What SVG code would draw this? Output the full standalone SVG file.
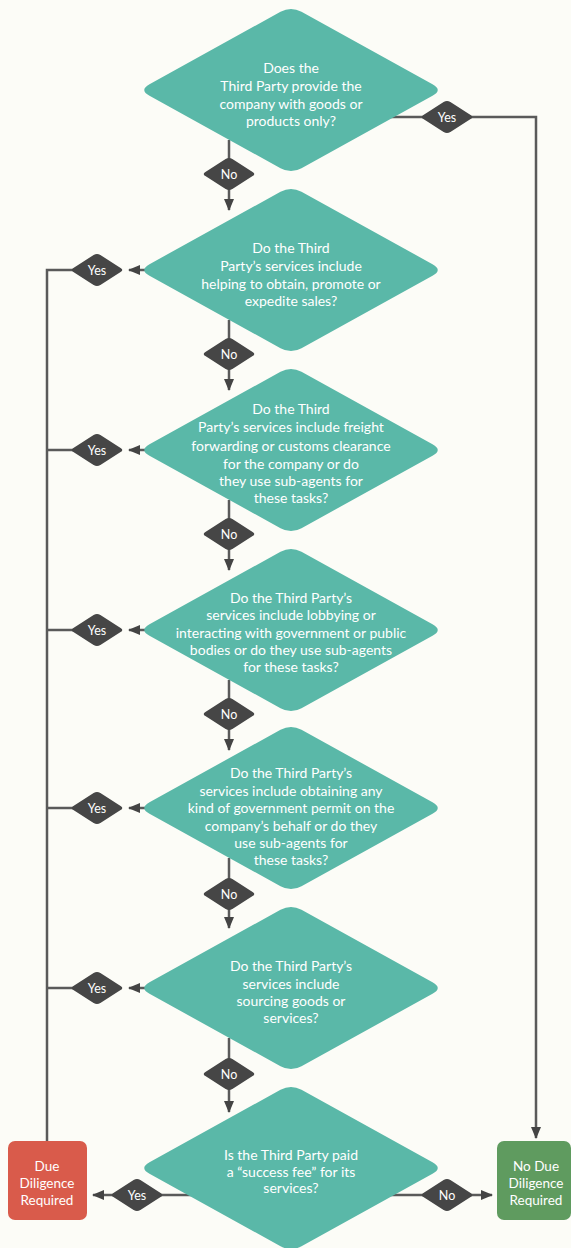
<svg xmlns="http://www.w3.org/2000/svg" xmlns:xlink="http://www.w3.org/1999/xlink" width="571" height="1248" viewBox="0 0 571 1248">
  <style>
    .q { fill: #5ab8a8; }
    .lbl { fill: #464646; }
    .wire { fill: none; stroke: #5a5a5a; stroke-width: 2.5; }
    .qt { font-family: Lato, "Open Sans", sans-serif; font-size: 14px; fill: #ffffff; text-anchor: middle; }
    .lt { font-family: Lato, "Open Sans", sans-serif; font-size: 12.5px; fill: #ffffff; text-anchor: middle; }
    .bt { font-family: Lato, "Open Sans", sans-serif; font-size: 13.5px; fill: #ffffff; text-anchor: middle; }
  </style>
  <defs>
    <!-- decision shape, rounded tips, centred on 0,0 -->
    <path id="dia" d="M -10.5,-78.2 Q 0,-84 10.5,-78.2 L 141.5,-5.8 Q 152,0 141.5,5.8 L 10.5,78.2 Q 0,84 -10.5,78.2 L -141.5,5.8 Q -152,0 -141.5,-5.8 Z"/>
    <!-- small branch label shape -->
    <path id="tag" d="M -3.4,-14.9 Q 0,-17 3.4,-14.9 L 23.6,-2.1 Q 27,0 23.6,2.1 L 3.4,14.9 Q 0,17 -3.4,14.9 L -23.6,2.1 Q -27,0 -23.6,-2.1 Z"/>
    <marker id="arr" viewBox="0 0 12 10" refX="11" refY="5" markerWidth="12" markerHeight="10" markerUnits="userSpaceOnUse" orient="auto">
      <path d="M 0,0 L 12,5 L 0,10 Z" fill="#444444"/>
    </marker>
  </defs>

  <rect width="571" height="1248" fill="#fcfcf7"/>

  <!-- connectors -->
  <g id="connectors">
    <!-- No path down the middle -->
    <line class="wire" x1="229" y1="140" x2="229" y2="210" marker-end="url(#arr)"/>
    <line class="wire" x1="229" y1="320" x2="229" y2="390" marker-end="url(#arr)"/>
    <line class="wire" x1="229" y1="500" x2="229" y2="570" marker-end="url(#arr)"/>
    <line class="wire" x1="229" y1="680" x2="229" y2="750" marker-end="url(#arr)"/>
    <line class="wire" x1="229" y1="858" x2="229" y2="928" marker-end="url(#arr)"/>
    <line class="wire" x1="229" y1="1038" x2="229" y2="1112" marker-end="url(#arr)"/>

    <!-- Yes from the first question to No Due Diligence -->
    <polyline class="wire" points="388,117 536,117 536,1138" marker-end="url(#arr)"/>

    <!-- Yes branches to the left rail -->
    <line class="wire" x1="146" y1="270" x2="129" y2="270" marker-end="url(#arr)"/>
    <line class="wire" x1="146" y1="450" x2="129" y2="450" marker-end="url(#arr)"/>
    <line class="wire" x1="146" y1="630" x2="129" y2="630" marker-end="url(#arr)"/>
    <line class="wire" x1="146" y1="808" x2="129" y2="808" marker-end="url(#arr)"/>
    <line class="wire" x1="146" y1="988" x2="129" y2="988" marker-end="url(#arr)"/>
    <polyline class="wire" points="75,270 47,270 47,1141"/>
    <line class="wire" x1="47" y1="450" x2="75" y2="450"/>
    <line class="wire" x1="47" y1="630" x2="75" y2="630"/>
    <line class="wire" x1="47" y1="808" x2="75" y2="808"/>
    <line class="wire" x1="47" y1="988" x2="75" y2="988"/>

    <!-- last question outcomes -->
    <line class="wire" x1="192" y1="1195" x2="93" y2="1195" marker-end="url(#arr)"/>
    <line class="wire" x1="390" y1="1195" x2="492" y2="1195" marker-end="url(#arr)"/>

    <!-- branch labels -->
    <g transform="translate(229,174)"><use xlink:href="#tag" class="lbl"/><text class="lt" y="4.5">No</text></g>
    <g transform="translate(229,354)"><use xlink:href="#tag" class="lbl"/><text class="lt" y="4.5">No</text></g>
    <g transform="translate(229,534)"><use xlink:href="#tag" class="lbl"/><text class="lt" y="4.5">No</text></g>
    <g transform="translate(229,714)"><use xlink:href="#tag" class="lbl"/><text class="lt" y="4.5">No</text></g>
    <g transform="translate(229,894)"><use xlink:href="#tag" class="lbl"/><text class="lt" y="4.5">No</text></g>
    <g transform="translate(229,1074)"><use xlink:href="#tag" class="lbl"/><text class="lt" y="4.5">No</text></g>

    <g transform="translate(447,117)"><use xlink:href="#tag" class="lbl"/><text class="lt" y="4.5">Yes</text></g>
    <g transform="translate(97,270)"><use xlink:href="#tag" class="lbl"/><text class="lt" y="4.5">Yes</text></g>
    <g transform="translate(97,450)"><use xlink:href="#tag" class="lbl"/><text class="lt" y="4.5">Yes</text></g>
    <g transform="translate(97,630)"><use xlink:href="#tag" class="lbl"/><text class="lt" y="4.5">Yes</text></g>
    <g transform="translate(97,808)"><use xlink:href="#tag" class="lbl"/><text class="lt" y="4.5">Yes</text></g>
    <g transform="translate(97,988)"><use xlink:href="#tag" class="lbl"/><text class="lt" y="4.5">Yes</text></g>
    <g transform="translate(137,1195)"><use xlink:href="#tag" class="lbl"/><text class="lt" y="4.5">Yes</text></g>
    <g transform="translate(447,1195)"><use xlink:href="#tag" class="lbl"/><text class="lt" y="4.5">No</text></g>
  </g>

  <!-- questions -->
  <g id="q1">
    <use xlink:href="#dia" class="q" transform="translate(291,90)"/>
    <text class="qt" x="291" y="73">Does the</text>
    <text class="qt" x="291" y="91">Third Party provide the</text>
    <text class="qt" x="291" y="109">company with goods or</text>
    <text class="qt" x="291" y="126">products only?</text>
  </g>

  <g id="q2">
    <use xlink:href="#dia" class="q" transform="translate(291,270)"/>
    <text class="qt" x="291" y="253">Do the Third</text>
    <text class="qt" x="291" y="271">Party’s services include</text>
    <text class="qt" x="291" y="289">helping to obtain, promote or</text>
    <text class="qt" x="291" y="306">expedite sales?</text>
  </g>

  <g id="q3">
    <use xlink:href="#dia" class="q" transform="translate(291,450)"/>
    <text class="qt" x="291" y="414">Do the Third</text>
    <text class="qt" x="291" y="432">Party’s services include freight</text>
    <text class="qt" x="291" y="451">forwarding or customs clearance</text>
    <text class="qt" x="291" y="469">for the company or do</text>
    <text class="qt" x="291" y="486">they use sub-agents for</text>
    <text class="qt" x="291" y="503">these tasks?</text>
  </g>

  <g id="q4">
    <use xlink:href="#dia" class="q" transform="translate(291,630)"/>
    <text class="qt" x="291" y="603">Do the Third Party’s</text>
    <text class="qt" x="291" y="620">services include lobbying or</text>
    <text class="qt" x="291" y="638">interacting with government or public</text>
    <text class="qt" x="291" y="655">bodies or do they use sub-agents</text>
    <text class="qt" x="291" y="672">for these tasks?</text>
  </g>

  <g id="q5">
    <use xlink:href="#dia" class="q" transform="translate(291,808)"/>
    <text class="qt" x="291" y="778">Do the Third Party’s</text>
    <text class="qt" x="291" y="796">services include obtaining any</text>
    <text class="qt" x="291" y="813">kind of government permit on the</text>
    <text class="qt" x="291" y="831">company’s behalf or do they</text>
    <text class="qt" x="291" y="848">use sub-agents for</text>
    <text class="qt" x="291" y="865">these tasks?</text>
  </g>

  <g id="q6">
    <use xlink:href="#dia" class="q" transform="translate(291,988)"/>
    <text class="qt" x="291" y="971">Do the Third Party’s</text>
    <text class="qt" x="291" y="989">services include</text>
    <text class="qt" x="291" y="1006">sourcing goods or</text>
    <text class="qt" x="291" y="1023">services?</text>
  </g>

  <g id="q7">
    <use xlink:href="#dia" class="q" transform="translate(291,1168)"/>
    <text class="qt" x="291" y="1160">Is the Third Party paid</text>
    <text class="qt" x="291" y="1177">a “success fee” for its</text>
    <text class="qt" x="291" y="1193">services?</text>
  </g>

  <!-- outcomes -->
  <g id="due-diligence">
    <rect x="8" y="1141" width="79" height="79" rx="7" fill="#d95b4b"/>
    <text class="bt" x="47" y="1171">Due</text>
    <text class="bt" x="47" y="1188">Diligence</text>
    <text class="bt" x="47" y="1205">Required</text>
  </g>

  <g id="no-due-diligence">
    <rect x="497" y="1141" width="74" height="79" rx="7" fill="#5f9b5f"/>
    <text class="bt" x="536" y="1171">No Due</text>
    <text class="bt" x="536" y="1188">Diligence</text>
    <text class="bt" x="536" y="1205">Required</text>
  </g>
</svg>
